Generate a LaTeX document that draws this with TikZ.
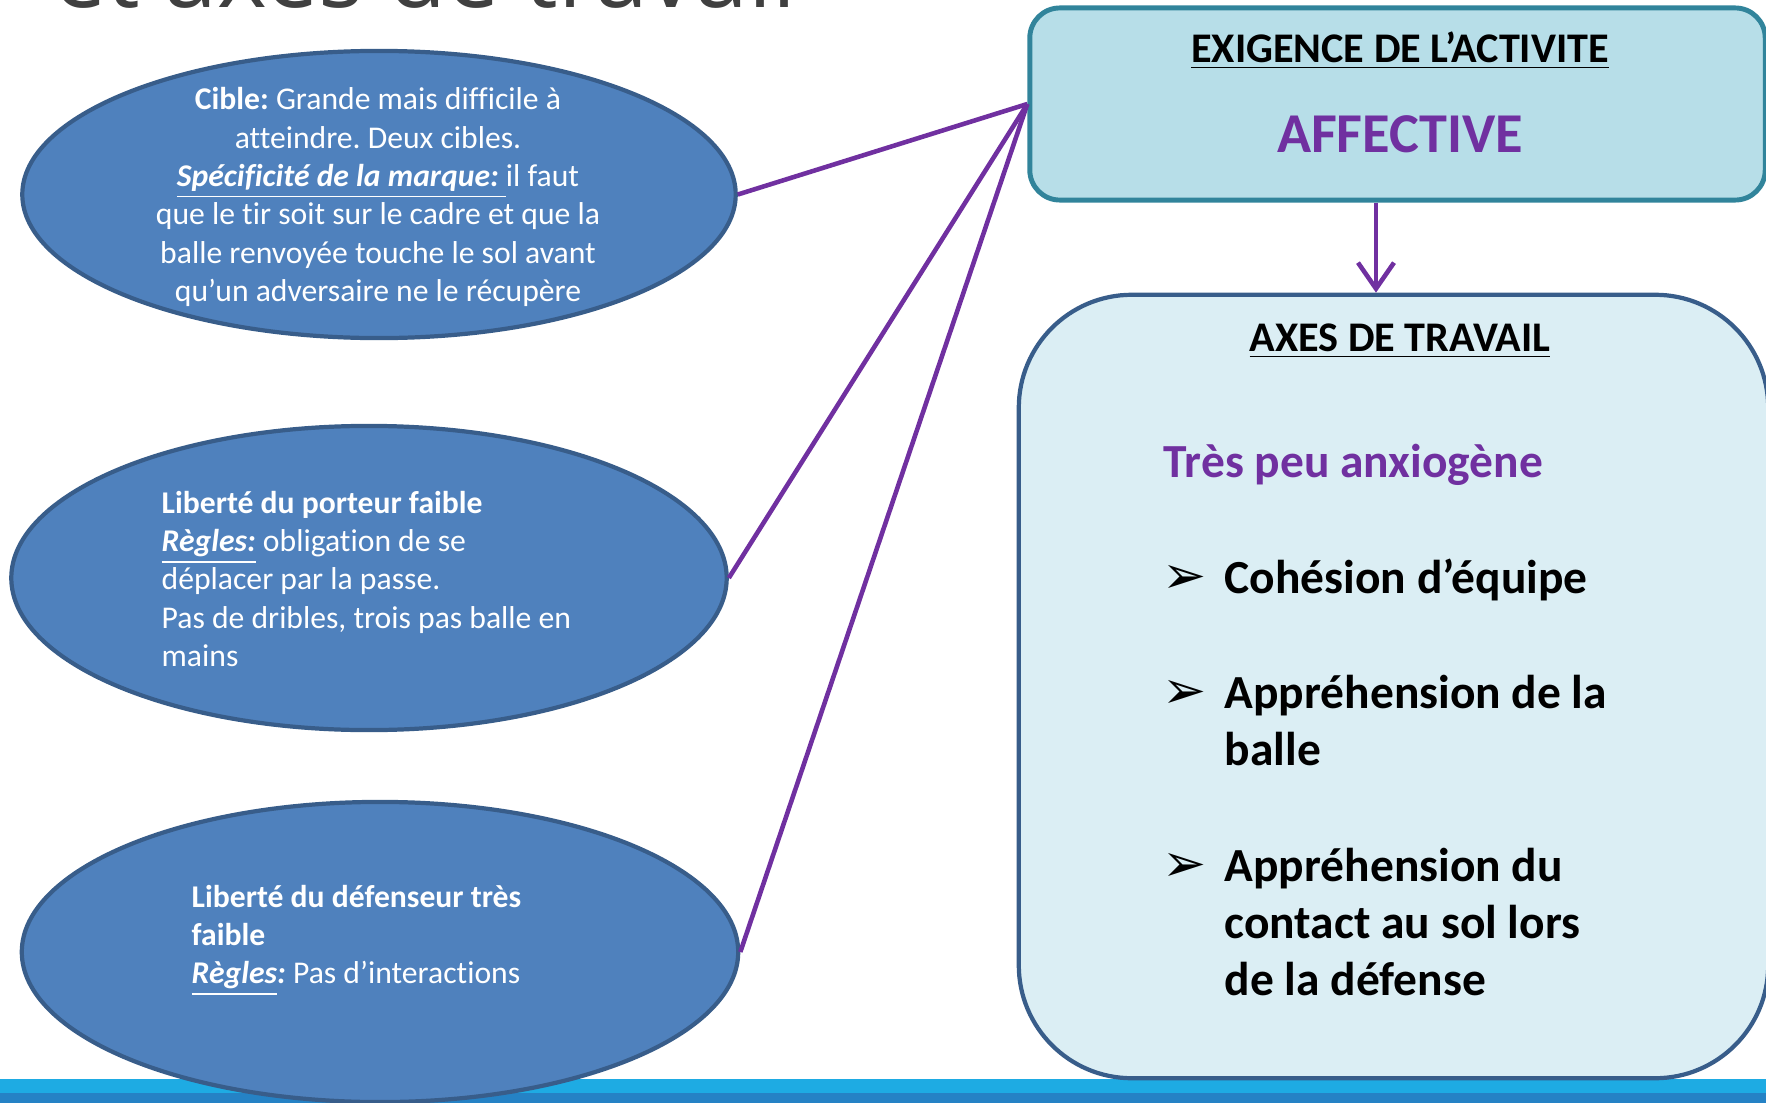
\documentclass[tikz,border=0pt]{standalone}
\usepackage{fontspec}
\setmainfont{Carlito}[Ligatures=NoCommon]
\newfontfamily\titlefont{Open Sans}
\newfontfamily\symbfont{DejaVu Sans}
\usetikzlibrary{arrows.meta, positioning, shapes.geometric, calc}
\definecolor{axBlue}{RGB}{79, 129, 189}
\definecolor{axBlueDark}{RGB}{56, 93, 138}
\definecolor{axTeal}{RGB}{183, 222, 232}
\definecolor{axTealDark}{RGB}{49, 132, 155}
\definecolor{axPale}{RGB}{219, 238, 244}
\definecolor{axPurple}{RGB}{112, 48, 160}
\definecolor{axGrey}{RGB}{64, 64, 64}
\definecolor{axBandLight}{RGB}{30, 171, 227}
\definecolor{axBandDark}{RGB}{37, 130, 197}
\frenchspacing

\begin{document}
\begin{tikzpicture}[x=0.01cm, y=-0.01cm,
    bulle/.style={ellipse, draw=axBlueDark, line width=1.2pt, fill=axBlue, inner sep=0pt},
    bulletxt/.style={text=white, inner sep=0pt, font=\fontsize{9}{10.9}\selectfont},
    lien/.style={axPurple, line width=1.3pt},
    titre/.style={anchor=base, inner sep=0pt, font=\fontsize{12}{14}\selectfont\bfseries},
    puce/.style={anchor=base west, inner sep=0pt, font=\symbfont\fontsize{15}{17}\selectfont},
    item/.style={anchor=base west, align=left, inner sep=0pt, font=\fontsize{13.5}{16.2}\selectfont\bfseries}]
    \useasboundingbox (0,0) rectangle (1766,1103);
    \clip (0,0) rectangle (1766,1103);
    \node[anchor=base east, inner sep=0pt, text=axGrey, font=\titlefont\fontsize{27}{30}\selectfont] (titre0) at (797,8) {et axes de travail};
    \fill[axBandLight] (0,1079) rectangle (1766,1093);
    \fill[axBandDark] (0,1093) rectangle (1766,1103);
    \node[draw=axTealDark, fill=axTeal, line width=1.4pt, rounded corners=0.3cm, minimum width=7.35cm, minimum height=1.92cm] (exigence) at (1397.5,104) {};
    \node[draw=axBlueDark, fill=axPale, line width=1.2pt, rounded corners=1.13cm, minimum width=7.49cm, minimum height=7.83cm] (axes) at (1393.5,686.5) {};
    \node[titre] (exig) at (1400,62) {\underline{EXIGENCE DE L’ACTIVITE}};
    \node[titre, text=axPurple, font=\fontsize{16}{19}\selectfont\bfseries] (affect) at (1400,152) {AFFECTIVE};
    \node[titre] (axtitre) at (1400,351) {\underline{AXES DE TRAVAIL}};
    \node[item, text=axPurple] (anx) at (1163,477.5) {Très peu anxiogène};
    \node[puce] (p1) at (1162,593.5) {➢};
    \node[item] (i1) at (1224,593.5) {Cohésion d’équipe};
    \node[puce] (p2) at (1162,708.5) {➢};
    \node[item] (i2) at (1224,765) {Appréhension de la\\balle};
    \node[puce] (p3) at (1162,881) {➢};
    \node[item] (i3) at (1224,995.5) {Appréhension du\\contact au sol lors\\de la défense};
    \node[bulle, minimum width=7.13cm, minimum height=2.87cm] (e1) at (379,194.5) {};
    \node[bulle, minimum width=7.15cm, minimum height=3.04cm] (e2) at (369,578) {};
    \node[bulle, minimum width=7.16cm, minimum height=3.00cm] (e3) at (380,952) {};
    \node[bulletxt, align=center] (t1) at (378,197) {\textbf{Cible:} Grande mais difficile à\\atteindre. Deux cibles.\\\underline{\textbf{\textit{Spécificité de la marque:}}\ }il faut\\que le tir soit sur le cadre et que la\\balle renvoyée touche le sol avant\\qu’un adversaire ne le récupère};
    \node[bulletxt, align=left, anchor=west] (t2) at (161,579) {\textbf{Liberté du porteur faible}\\\underline{\textbf{\textit{Règles:}}} obligation de se\\déplacer par la passe.\\Pas de dribles, trois pas balle en\\mains};
    \node[bulletxt, align=left, anchor=west] (t3) at (191,940.5) {\textbf{Liberté du défenseur très}\\\textbf{faible}\\\underline{\textbf{\textit{Règles}}}\textbf{\textit{:}} Pas d’interactions};
    \draw[lien] (e1.east) -- (exigence.west);
    \draw[lien] (e2.east) -- (exigence.west);
    \draw[lien] (e3.east) -- (exigence.west);
    \draw[lien, -{Straight Barb[length=2.6mm, width=3.6mm]}] ([xshift=-0.215cm]exigence.south) -- ([xshift=-0.215cm]exigence.south |- axes.north);
\end{tikzpicture}
\end{document}
